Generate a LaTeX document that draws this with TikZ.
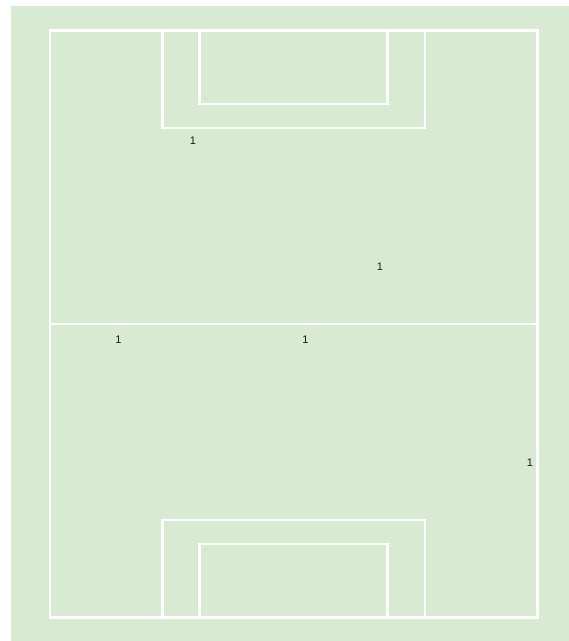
\documentclass[tikz,border=0pt]{standalone}
\usepackage{fontspec}
\setmainfont{Liberation Sans}
\definecolor{pitch}{HTML}{D9EAD3}
\definecolor{lbl}{HTML}{1A1A1A}
\begin{document}
\begin{tikzpicture}[x=1pt,y=-1pt,
  fieldline/.style={draw=white,line width=2.5pt},
  num/.style={font=\fontsize{11}{12}\selectfont,text=lbl,inner sep=0pt}]
\useasboundingbox (0,0) rectangle (569,641);
\fill[pitch] (11,6) rectangle (569,641);
% outer field
\draw[fieldline] (50,30.5) rectangle (537.5,617.5);
% halfway line
\draw[fieldline] (50,324) -- (537.5,324);
% top boxes
\draw[fieldline] (162.5,30.5) -- (162.5,128) -- (425,128) -- (425,30.5);
\draw[fieldline] (199.5,30.5) -- (199.5,104) -- (387.5,104) -- (387.5,30.5);
% bottom boxes
\draw[fieldline] (162.5,617.5) -- (162.5,520) -- (425,520) -- (425,617.5);
\draw[fieldline] (199.5,617.5) -- (199.5,544) -- (387.5,544) -- (387.5,617.5);
% labels
\node[num] (a) at (193,140.5) {1};
\node[num] (b) at (380,267) {1};
\node[num] (c) at (118.5,340) {1};
\node[num] (d) at (305.5,340) {1};
\node[num] (e) at (530,462.5) {1};
\end{tikzpicture}
\end{document}
